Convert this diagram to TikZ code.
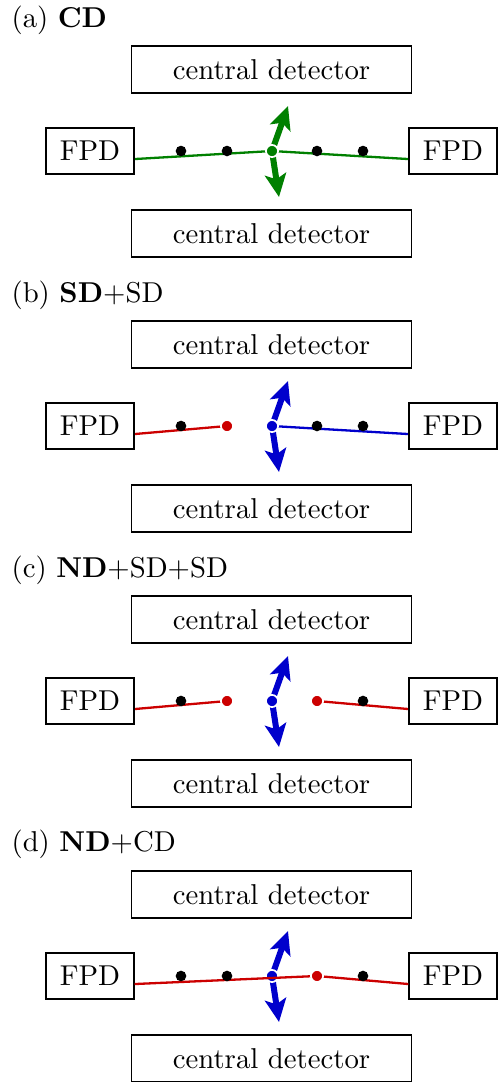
\documentclass[tikz,border=0pt]{standalone}
\usetikzlibrary{arrows.meta,calc}
\definecolor{cdgreen}{RGB}{0,128,0}
\definecolor{sdred}{RGB}{204,0,0}
\definecolor{sdblue}{RGB}{0,0,204}
\pgfdeclarelayer{bg}
\pgfdeclarelayer{mid}
\pgfsetlayers{bg,mid,main}
\begin{document}
\begin{tikzpicture}[x=0.348pt,y=-0.348pt,
  detbox/.style={draw,line width=0.45pt,minimum width=97.4pt,minimum height=16.4pt,inner sep=0pt},
  fpdbox/.style={draw,line width=0.45pt,minimum width=30.6pt,minimum height=16pt,inner sep=0pt},
  hit/.style={circle,fill=black,inner sep=0pt,minimum size=3.7pt},
  vtx/.style={circle,fill=#1,draw=white,line width=0.6pt,inner sep=0pt,minimum size=4.2pt},
  trk/.style={draw=#1,line width=0.8pt},
  mom/.style={draw=#1,line width=2.1pt,line cap=butt,-{Stealth[length=8pt,width=7.4pt,inset=1.8pt]},shorten <=1.6pt},
  lab/.style={anchor=base west,inner sep=0pt}]
\useasboundingbox (0,0) rectangle (500,1082);

% ---------------- (a)
\begin{scope}
\node[lab] (labA) at (11,27) {(a) \textbf{CD}};
\node[detbox] (topA) at (271.5,69.5) {central detector};
\node[fpdbox] (fLA) at (90,151) {FPD};
\node[fpdbox] (fRA) at (453,151) {FPD};
\node[detbox] (botA) at (271.5,233.5) {central detector};
\coordinate (eLA) at ([yshift=-2.8pt]fLA.east);
\coordinate (eRA) at ([yshift=-2.8pt]fRA.west);
\coordinate (upA) at (288,106);
\coordinate (dnA) at (279,197);
\node[vtx=cdgreen] (vA) at (272,151) {};
\begin{pgfonlayer}{bg}
\draw[trk=cdgreen] (eLA) -- (vA.center) -- (eRA);
\end{pgfonlayer}
\begin{pgfonlayer}{mid}
\draw[mom=cdgreen] (vA.center) -- (upA);
\draw[mom=cdgreen] (vA.center) -- (dnA);
\end{pgfonlayer}
\node[hit] (a1) at (181,151) {};
\node[hit] (a2) at (227,151) {};
\node[hit] (a3) at (317,151) {};
\node[hit] (a4) at (363,151) {};
\end{scope}

% ---------------- (b)
\begin{scope}[yshift=-95.7pt]
\node[lab] (labB) at (11,27) {(b) \textbf{SD}+SD};
\node[detbox] (topB) at (271.5,69.5) {central detector};
\node[fpdbox] (fLB) at (90,151) {FPD};
\node[fpdbox] (fRB) at (453,151) {FPD};
\node[detbox] (botB) at (271.5,233.5) {central detector};
\coordinate (eLB) at ([yshift=-2.8pt]fLB.east);
\coordinate (eRB) at ([yshift=-2.8pt]fRB.west);
\coordinate (upB) at (288,106);
\coordinate (dnB) at (279,197);
\node[vtx=sdblue] (vB) at (272,151) {};
\node[vtx=sdred] (rB) at (227,151) {};
\begin{pgfonlayer}{bg}
\draw[trk=sdred] (eLB) -- (rB.center);
\draw[trk=sdblue] (vB.center) -- (eRB);
\end{pgfonlayer}
\begin{pgfonlayer}{mid}
\draw[mom=sdblue] (vB.center) -- (upB);
\draw[mom=sdblue] (vB.center) -- (dnB);
\end{pgfonlayer}
\node[hit] (b1) at (181,151) {};
\node[hit] (b3) at (317,151) {};
\node[hit] (b4) at (363,151) {};
\end{scope}

% ---------------- (c)
\begin{scope}[yshift=-191.4pt]
\node[lab] (labC) at (11,27) {(c) \textbf{ND}+SD+SD};
\node[detbox] (topC) at (271.5,69.5) {central detector};
\node[fpdbox] (fLC) at (90,151) {FPD};
\node[fpdbox] (fRC) at (453,151) {FPD};
\node[detbox] (botC) at (271.5,233.5) {central detector};
\coordinate (eLC) at ([yshift=-2.8pt]fLC.east);
\coordinate (eRC) at ([yshift=-2.8pt]fRC.west);
\coordinate (upC) at (288,106);
\coordinate (dnC) at (279,197);
\node[vtx=sdblue] (vC) at (272,151) {};
\node[vtx=sdred] (rC1) at (227,151) {};
\node[vtx=sdred] (rC2) at (317,151) {};
\begin{pgfonlayer}{bg}
\draw[trk=sdred] (eLC) -- (rC1.center);
\draw[trk=sdred] (rC2.center) -- (eRC);
\end{pgfonlayer}
\begin{pgfonlayer}{mid}
\draw[mom=sdblue] (vC.center) -- (upC);
\draw[mom=sdblue] (vC.center) -- (dnC);
\end{pgfonlayer}
\node[hit] (c1) at (181,151) {};
\node[hit] (c4) at (363,151) {};
\end{scope}

% ---------------- (d)
\begin{scope}[yshift=-287.1pt]
\node[lab] (labD) at (11,27) {(d) \textbf{ND}+CD};
\node[detbox] (topD) at (271.5,69.5) {central detector};
\node[fpdbox] (fLD) at (90,151) {FPD};
\node[fpdbox] (fRD) at (453,151) {FPD};
\node[detbox] (botD) at (271.5,233.5) {central detector};
\coordinate (eLD) at ([yshift=-2.8pt]fLD.east);
\coordinate (eRD) at ([yshift=-2.8pt]fRD.west);
\coordinate (upD) at (288,106);
\coordinate (dnD) at (279,197);
\node[vtx=sdblue] (vD) at (272,151) {};
\begin{pgfonlayer}{mid}
\draw[mom=sdblue] (vD.center) -- (upD);
\draw[mom=sdblue] (vD.center) -- (dnD);
\end{pgfonlayer}
\coordinate (rDc) at (317,151);
\draw[trk=sdred] (eLD) -- (rDc) -- (eRD);
\node[vtx=sdred] (rD) at (rDc) {};
\node[hit] (d1) at (181,151) {};
\node[hit] (d2) at (227,151) {};
\node[hit] (d4) at (363,151) {};
\end{scope}
\end{tikzpicture}
\end{document}
